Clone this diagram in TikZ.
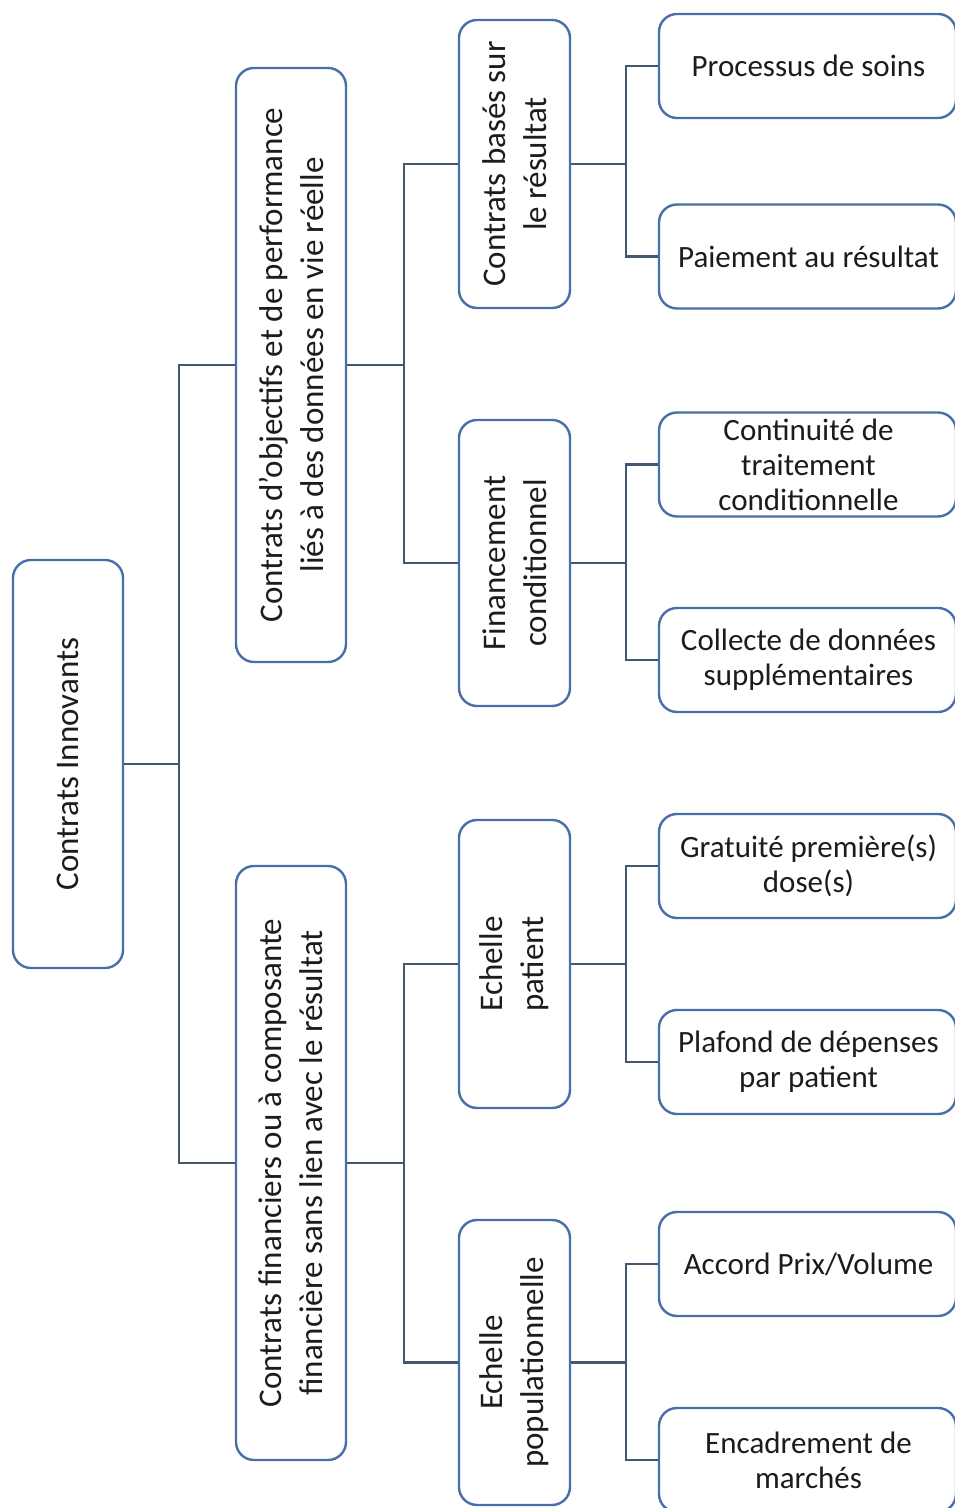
\documentclass[tikz,border=0pt]{standalone}
\usepackage{fontspec}
\setmainfont{Carlito}
\definecolor{boxblue}{RGB}{74,110,170}
\definecolor{connc}{RGB}{70,86,110}
\definecolor{txtc}{RGB}{28,28,28}
\begin{document}
\begin{tikzpicture}[x=1pt,y=1pt,
  box/.style={draw=boxblue, line width=2.4pt, rounded corners=18pt, fill=white, inner sep=0pt},
  vtxt/.style={rotate=90, align=center, text=txtc, font=\fontsize{33}{41}\selectfont},
  htxt/.style={align=center, text=txtc, font=\fontsize{31}{35}\selectfont},
  conn/.style={draw=connc, line width=2.4pt}]
\useasboundingbox (0,0) rectangle (954,1508);
\fill[white] (0,0) rectangle (954,1508);
% root
\node[box, minimum width=110pt, minimum height=408pt] (root) at (68,744) {};
\node[vtxt] (troot) at (root.center) {Contrats Innovants};
% level 1
\node[box, minimum width=110pt, minimum height=594pt] (la) at (291,1143) {};
\node[vtxt] (tla) at (la.center) {Contrats d’objectifs et de performance\\liés à des données en vie réelle};
\node[box, minimum width=110pt, minimum height=594pt] (lb) at (291,345) {};
\node[vtxt] (tlb) at (lb.center) {Contrats financiers ou à composante\\financière sans lien avec le résultat};
% level 2
\node[box, minimum width=111pt, minimum height=288pt] (ma) at (514.5,1344) {};
\node[vtxt] (tma) at (ma.center) {Contrats basés sur\\le résultat};
\node[box, minimum width=111pt, minimum height=286pt] (mb) at (514.5,945) {};
\node[vtxt] (tmb) at (mb.center) {Financement\\conditionnel};
\node[box, minimum width=111pt, minimum height=288pt] (mc) at (514.5,544) {};
\node[vtxt] (tmc) at (mc.center) {Echelle\\patient};
\node[box, minimum width=111pt, minimum height=285pt] (md) at (514.5,145.5) {};
\node[vtxt] (tmd) at (md.center) {Echelle\\populationnelle};
% level 3
\foreach \n/\y in {p1/1442,p2/1251.5,p3/1043.5,p4/848,p5/642,p6/446,p7/244,p8/48}{
  \node[box, minimum width=297pt, minimum height=104pt] (\n) at (807.5,\y) {};
}
\node[htxt] (tp1) at ([xshift=1pt]p1.center) {Processus de soins};
\node[htxt] (tp2) at ([xshift=1pt]p2.center) {Paiement au résultat};
\node[htxt] (tp3) at ([xshift=1pt]p3.center) {Continuité de\\traitement\\conditionnelle};
\node[htxt] (tp4) at ([xshift=1pt]p4.center) {Collecte de données\\supplémentaires};
\node[htxt] (tp5) at ([xshift=1pt]p5.center) {Gratuité première(s)\\dose(s)};
\node[htxt] (tp6) at ([xshift=1pt]p6.center) {Plafond de dépenses\\par patient};
\node[htxt] (tp7) at ([xshift=1pt]p7.center) {Accord Prix/Volume};
\node[htxt] (tp8) at ([xshift=1pt]p8.center) {Encadrement de\\marchés};
% connectors
\draw[conn] (root.east) -- ++(55,0) coordinate (j0);
\draw[conn] (la.west) -| (j0) |- (lb.west);
\draw[conn] (la.east) -- ++(57,0) coordinate (j1);
\draw[conn] (ma.west) -| (j1) |- (mb.west);
\draw[conn] (lb.east) -- ++(57,0) coordinate (j2);
\draw[conn] (mc.west) -| (j2) |- (md.west);
\draw[conn] (ma.east) -- ++(55,0) coordinate (k1);
\draw[conn] (p1.west) -| (k1) |- (p2.west);
\draw[conn] (mb.east) -- ++(55,0) coordinate (k2);
\draw[conn] (p3.west) -| (k2) |- (p4.west);
\draw[conn] (mc.east) -- ++(55,0) coordinate (k3);
\draw[conn] (p5.west) -| (k3) |- (p6.west);
\draw[conn] (md.east) -- ++(55,0) coordinate (k4);
\draw[conn] (p7.west) -| (k4) |- (p8.west);
\end{tikzpicture}
\end{document}
